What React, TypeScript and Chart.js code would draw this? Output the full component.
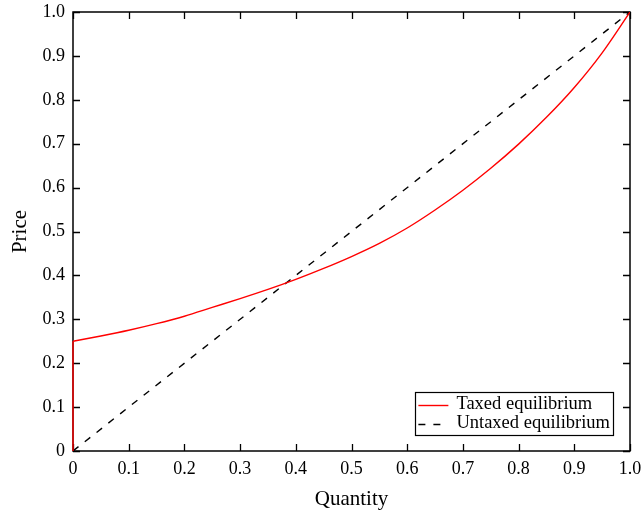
import { useEffect, useRef } from 'react';
import { Chart, registerables } from 'chart.js';

Chart.register(...registerables);

// Taxed equilibrium: vertical stem at q = 0 ...
const taxedStemQuantity = [0, 0];
const taxedStemPrice = [0, 0.25];
// ... then the rising curve
const taxedQuantity = [0, 0.05, 0.1, 0.15, 0.2, 0.25, 0.3, 0.35, 0.4, 0.45, 0.5, 0.55, 0.6, 0.65, 0.7, 0.75, 0.8, 0.85, 0.9, 0.95, 1.0];
const taxedPrice = [0.25, 0.262, 0.275, 0.29, 0.307, 0.327, 0.347, 0.368, 0.391, 0.416, 0.443, 0.473, 0.508, 0.549, 0.594, 0.644, 0.699, 0.76, 0.828, 0.907, 1.0];

// Untaxed equilibrium: diagonal
const untaxedQuantity = [0, 1];
const untaxedPrice = [0, 1];

const tickValues = [0, 0.1, 0.2, 0.3, 0.4, 0.5, 0.6, 0.7, 0.8, 0.9, 1.0];
const tickLabels = ['0', '0.1', '0.2', '0.3', '0.4', '0.5', '0.6', '0.7', '0.8', '0.9', '1.0'];

const seriesLabels = ['Taxed equilibrium', 'Untaxed equilibrium'];
const xTitle = 'Quantity';
const yTitle = 'Price';

const FONT_FAMILY = '"Liberation Serif", "Times New Roman", serif';
const TICK_SIZE = 18;
const TITLE_SIZE = 21;
const LEGEND_SIZE = 18.5;

const framePlugin = {
  id: 'gnuFrame',
  beforeDatasetsDraw(chart: any) {
    const { ctx, chartArea } = chart;
    const { left, right, top, bottom } = chartArea;
    const xs = chart.scales.x;
    const ys = chart.scales.y;
    const tl = 7;
    ctx.save();
    ctx.strokeStyle = '#000';
    ctx.lineWidth = 1.3;
    ctx.beginPath();
    tickValues.forEach((v) => {
      const px = Math.round(xs.getPixelForValue(v)) + 0.5;
      ctx.moveTo(px, bottom);
      ctx.lineTo(px, bottom - tl);
      ctx.moveTo(px, top);
      ctx.lineTo(px, top + tl);
      const py = Math.round(ys.getPixelForValue(v)) + 0.5;
      ctx.moveTo(left, py);
      ctx.lineTo(left + tl, py);
      ctx.moveTo(right, py);
      ctx.lineTo(right - tl, py);
    });
    ctx.stroke();
    ctx.lineWidth = 1.5;
    ctx.strokeRect(left, top, right - left, bottom - top);
    ctx.restore();
  },
  afterDatasetsDraw(chart: any) {
    const { ctx, chartArea } = chart;
    const datasets = chart.data.datasets.filter((d: any) => d.label);
    ctx.save();
    ctx.font = `${LEGEND_SIZE}px ${FONT_FAMILY}`;
    let w = 0;
    datasets.forEach((d: any) => {
      w = Math.max(w, ctx.measureText(d.label).width);
    });
    const rowH = 19;
    const boxRight = chartArea.right - 17;
    const boxBottom = chartArea.bottom - 16;
    const boxTop = boxBottom - datasets.length * rowH - 5;
    const textX = boxRight - 3 - w;
    const sampleEnd = textX - 8;
    const sampleStart = sampleEnd - 30;
    const boxLeft = sampleStart - 3;
    ctx.fillStyle = '#fff';
    ctx.fillRect(boxLeft, boxTop, boxRight - boxLeft, boxBottom - boxTop);
    ctx.strokeStyle = '#000';
    ctx.lineWidth = 1.2;
    ctx.setLineDash([]);
    ctx.strokeRect(Math.round(boxLeft) + 0.5, Math.round(boxTop) + 0.5, Math.round(boxRight - boxLeft), Math.round(boxBottom - boxTop));
    datasets.forEach((d: any, i: number) => {
      const cy = boxTop + 3 + rowH * i + rowH / 2;
      ctx.strokeStyle = d.borderColor;
      ctx.lineWidth = d.borderWidth;
      ctx.setLineDash(d.borderDash || []);
      ctx.beginPath();
      ctx.moveTo(sampleStart, Math.round(cy) + 0.5);
      ctx.lineTo(sampleEnd, Math.round(cy) + 0.5);
      ctx.stroke();
      ctx.setLineDash([]);
      ctx.fillStyle = '#000';
      ctx.textBaseline = 'middle';
      ctx.textAlign = 'left';
      ctx.fillText(d.label, textX, cy);
    });
    ctx.restore();
  },
};

export default function App() {
  const canvasRef = useRef<HTMLCanvasElement | null>(null);

  useEffect(() => {
    document.body.style.margin = '0';
    const canvas = canvasRef.current;
    if (!canvas) return;
    const tickFont = { family: FONT_FAMILY, size: TICK_SIZE };
    const titleFont = { family: FONT_FAMILY, size: TITLE_SIZE };
    const chart = new Chart(canvas, {
      type: 'line',
      data: {
        datasets: [
          {
            label: seriesLabels[0],
            data: taxedQuantity.map((q, i) => ({ x: q, y: taxedPrice[i] })),
            borderColor: '#ff0000',
            borderWidth: 1.4,
            pointRadius: 0,
            cubicInterpolationMode: 'monotone',
            fill: false,
          },
          {
            label: '',
            data: taxedStemQuantity.map((q, i) => ({ x: q, y: taxedStemPrice[i] })),
            borderColor: '#ff0000',
            borderWidth: 1.4,
            pointRadius: 0,
            tension: 0,
            fill: false,
            clip: false as any,
          },
          {
            label: seriesLabels[1],
            data: untaxedQuantity.map((q, i) => ({ x: q, y: untaxedPrice[i] })),
            borderColor: '#000000',
            borderWidth: 1.4,
            borderDash: [7, 8],
            pointRadius: 0,
            tension: 0,
            fill: false,
          },
        ],
      },
      options: {
        animation: false,
        responsive: false,
        devicePixelRatio: 1,
        layout: { padding: { top: 12, right: 11, left: 0, bottom: 0 } },
        plugins: {
          legend: { display: false },
          tooltip: { enabled: false },
        },
        scales: {
          x: {
            type: 'linear',
            min: 0,
            max: 1,
            grid: { display: false, drawTicks: false },
            border: { display: false },
            afterBuildTicks: (scale: any) => {
              scale.ticks = tickValues.map((v) => ({ value: v }));
            },
            afterFit: (scale: any) => {
              scale.height = 61;
              scale.paddingLeft = 0;
              scale.paddingRight = 0;
            },
            ticks: {
              padding: 7,
              color: '#000',
              font: tickFont,
              maxRotation: 0,
              autoSkip: false,
              callback: (_v: any, i: number) => tickLabels[i],
            },
            title: {
              display: true,
              text: xTitle,
              color: '#000',
              font: titleFont,
              padding: { top: 4, bottom: 0 },
            },
          },
          y: {
            type: 'linear',
            min: 0,
            max: 1,
            grid: { display: false, drawTicks: false },
            border: { display: false },
            afterBuildTicks: (scale: any) => {
              scale.ticks = tickValues.map((v) => ({ value: v }));
            },
            afterFit: (scale: any) => {
              scale.width = 73;
              scale.paddingTop = 0;
              scale.paddingBottom = 0;
            },
            ticks: {
              padding: 8,
              color: '#000',
              font: tickFont,
              autoSkip: false,
              callback: (_v: any, i: number) => tickLabels[i],
            },
            title: {
              display: true,
              text: yTitle,
              color: '#000',
              font: titleFont,
              padding: { top: 8, bottom: 0 },
            },
          },
        },
      },
      plugins: [framePlugin],
    });
    return () => chart.destroy();
  }, []);

  return (
    <canvas
      ref={canvasRef}
      width={641}
      height={512}
      style={{ display: 'block', width: 641, height: 512 }}
    />
  );
}
